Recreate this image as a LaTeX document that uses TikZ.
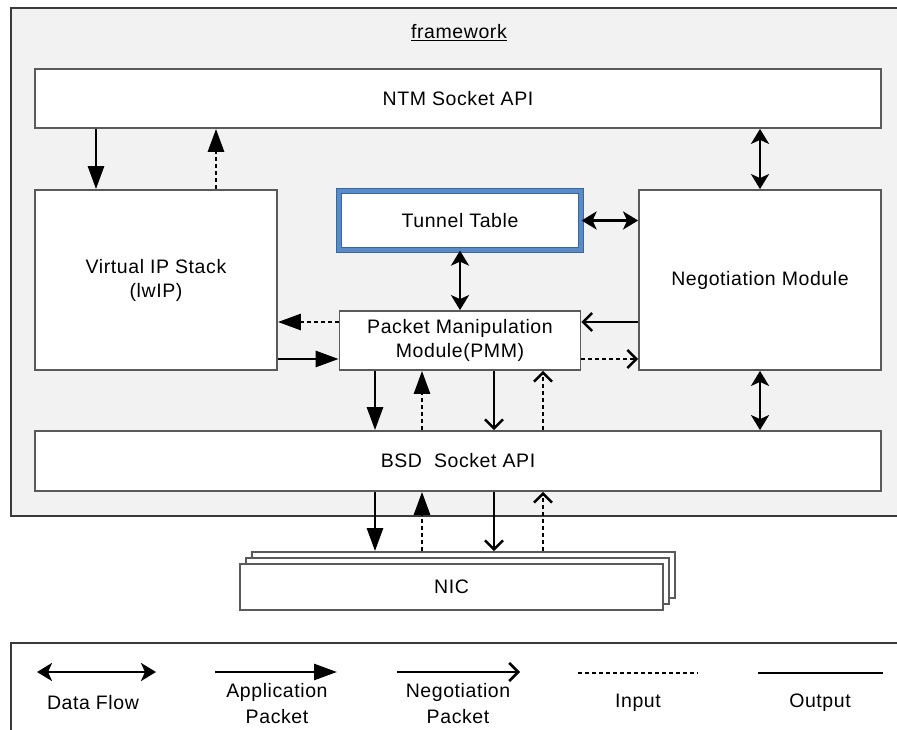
\documentclass[tikz,border=0pt]{standalone}
\usepackage{fontspec}
\setmainfont{Liberation Sans}[LetterSpace=3]
\usepackage{tikz}
\usetikzlibrary{arrows.meta, positioning, calc}
\usepackage{xcolor}
\definecolor{frameBg}{HTML}{F2F2F2}
\definecolor{frameLine}{HTML}{3A3A3A}
\definecolor{boxLine}{HTML}{5A5A5A}
\definecolor{tableBlue}{HTML}{5B8BC6}
\definecolor{tableDark}{HTML}{35689F}
\tikzset{
  module/.style={rectangle, draw=boxLine, line width=1.8pt, fill=white,
                 align=center, inner sep=0pt,
                 font=\fontsize{19.5}{24}\selectfont},
  lbl/.style={align=center, font=\fontsize{19.5}{26}\selectfont},
  appArrow/.style={-{Triangle[length=23pt, width=16pt]}, line width=2.8pt},
  negArrow/.style={-{Straight Barb[length=9pt, width=18pt]}, line width=2.5pt},
  flowArrow/.style={{Stealth[length=15pt, width=18pt, inset=4pt]}-{Stealth[length=15pt, width=18pt, inset=4pt]},
                    line width=2.9pt},
  inputLine/.style={dash pattern=on 4pt off 3pt},
}

\begin{document}
\begin{tikzpicture}[x=1pt, y=-1pt]
  \useasboundingbox (0,0) rectangle (897,730);

  %% Framework area
  \draw[fill=frameBg, draw=frameLine, line width=1.5pt] (11,8) rectangle (930,516);
  \node[lbl] (fw) at (459,33) {\underline{framework}};

  %% Modules
  \node[module, minimum width=846pt, minimum height=59pt] (ntm) at (458,98.5) {NTM Socket API};
  \node[module, minimum width=242pt, minimum height=180pt] (vip) at (156,280)
    {Virtual IP Stack\\(lwIP)};
  \node[module, minimum width=242pt, minimum height=59pt, draw=tableDark,
        double=tableBlue, double distance=4pt, line width=1.2pt] (tunnel) at (460,220.5) {Tunnel Table};
  \node[module, minimum width=242pt, minimum height=180pt] (neg) at (760,280) {Negotiation Module};
  \node[module, minimum width=241pt, minimum height=59pt] (pmm) at (460,340.5)
    {Packet Manipulation\\Module(PMM)};
  \node[module, minimum width=846pt, minimum height=60pt] (bsd) at (458,461) {BSD\ \ Socket API};

  %% NIC stack
  \foreach \i/\d in {3/12, 2/6}
    \node[module, minimum width=423pt, minimum height=46pt] (nic\i) at (451.5+\d,587-\d) {};
  \node[module, minimum width=423pt, minimum height=46pt] (nic1) at (451.5,587) {NIC};

  %% Arrow columns and rows
  \coordinate (v1) at (96,0);
  \coordinate (v2) at (216,0);
  \coordinate (c1) at (375,0);
  \coordinate (c2) at (422,0);
  \coordinate (c3) at (494,0);
  \coordinate (c4) at (543,0);
  \coordinate (r1) at (0,322);
  \coordinate (r2) at (0,359);

  %% NTM <-> Virtual IP Stack / Negotiation
  \draw[appArrow] (ntm.south -| v1) -- (vip.north -| v1);
  \draw[appArrow, inputLine] (vip.north -| v2) -- (ntm.south -| v2);
  \draw[flowArrow] (ntm.south -| neg.north) -- (neg.north);

  %% Tunnel Table
  \draw[flowArrow] (tunnel.east) -- (neg.west |- tunnel.east);
  \draw[flowArrow] (tunnel.south) -- (pmm.north);

  %% PMM sideways
  \draw[appArrow, inputLine] (pmm.west |- r1) -- (vip.east |- r1);
  \draw[appArrow] (vip.east |- r2) -- (pmm.west |- r2);
  \draw[negArrow] (neg.west |- r1) -- (pmm.east |- r1);
  \draw[negArrow, inputLine] (pmm.east |- r2) -- (neg.west |- r2);
  \draw[flowArrow] (neg.south) -- (bsd.north -| neg.south);

  %% Downwards to BSD and NIC
  \foreach \upper/\lower in {pmm/bsd, bsd/nic3}{
    \draw[appArrow] (\upper.south -| c1) -- (\lower.north -| c1);
    \draw[appArrow, inputLine] (\lower.north -| c2) -- (\upper.south -| c2);
    \draw[negArrow] (\upper.south -| c3) -- (\lower.north -| c3);
    \draw[negArrow, inputLine] (\lower.north -| c4) -- (\upper.south -| c4);
  }

  %% Legend
  \draw[draw=frameLine, line width=1.5pt] (11,643) rectangle (930,760);
  \coordinate (dfA) at (37,672);  \coordinate (dfB) at (156,672);
  \coordinate (apA) at (215,672); \coordinate (apB) at (337,672);
  \coordinate (ngA) at (397,672); \coordinate (ngB) at (520,672);
  \coordinate (inA) at (578,673); \coordinate (inB) at (698,673);
  \coordinate (otA) at (758,673); \coordinate (otB) at (883,673);
  \draw[flowArrow] (dfA) -- (dfB);
  \draw[appArrow] (apA) -- (apB);
  \draw[negArrow] (ngA) -- (ngB);
  \draw[inputLine, line width=2.8pt] (inA) -- (inB);
  \draw[line width=2.8pt] (otA) -- (otB);
  \node[lbl] (dfL) at (93,703) {Data Flow};
  \node[lbl] (apL) at (277,704) {Application\\Packet};
  \node[lbl] (ngL) at (458,704) {Negotiation\\Packet};
  \node[lbl] (inL) at (638,703) {Input};
  \node[lbl] (otL) at (820,703) {Output};
\end{tikzpicture}
\end{document}
